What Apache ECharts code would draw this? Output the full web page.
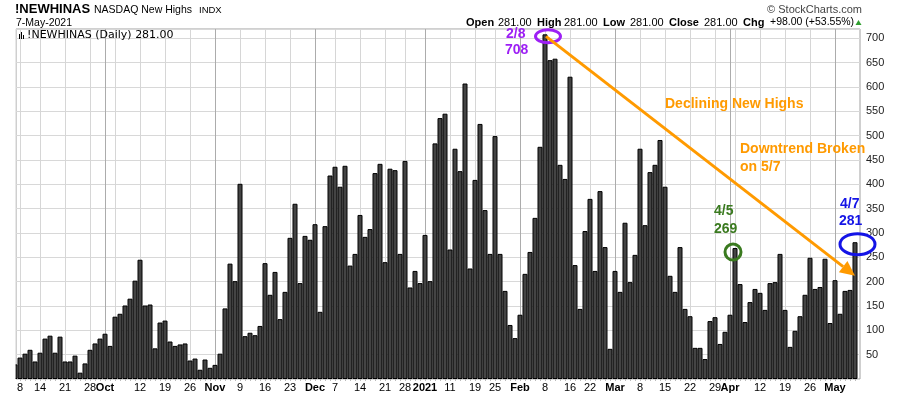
<!DOCTYPE html>
<html><head><meta charset="utf-8">
<script src="https://cdn.jsdelivr.net/npm/echarts@6/dist/echarts.min.js"></script>
<style>html,body{margin:0;padding:0;background:#fff}#c{width:900px;height:396px}</style>
</head><body><div id="c"></div>
<script>
// Trading days (Sep 4 2020 .. May 7 2021)
const dates = [
 '9/4','9/8','9/9','9/10','9/11','9/14','9/15','9/16','9/17','9/18','9/21','9/22','9/23','9/24','9/25','9/28','9/29','9/30',
 '10/1','10/2','10/5','10/6','10/7','10/8','10/9','10/12','10/13','10/14','10/15','10/16','10/19','10/20','10/21','10/22','10/23','10/26','10/27','10/28','10/29','10/30',
 '11/2','11/3','11/4','11/5','11/6','11/9','11/10','11/11','11/12','11/13','11/16','11/17','11/18','11/19','11/20','11/23','11/24','11/25','11/27','11/30',
 '12/1','12/2','12/3','12/4','12/7','12/8','12/9','12/10','12/11','12/14','12/15','12/16','12/17','12/18','12/21','12/22','12/23','12/24','12/28','12/29','12/30','12/31',
 '1/4','1/5','1/6','1/7','1/8','1/11','1/12','1/13','1/14','1/15','1/19','1/20','1/21','1/22','1/25','1/26','1/27','1/28','1/29',
 '2/1','2/2','2/3','2/4','2/5','2/8','2/9','2/10','2/11','2/12','2/16','2/17','2/18','2/19','2/22','2/23','2/24','2/25','2/26',
 '3/1','3/2','3/3','3/4','3/5','3/8','3/9','3/10','3/11','3/12','3/15','3/16','3/17','3/18','3/19','3/22','3/23','3/24','3/25','3/26','3/29','3/30','3/31',
 '4/1','4/5','4/6','4/7','4/8','4/9','4/12','4/13','4/14','4/15','4/16','4/19','4/20','4/21','4/22','4/23','4/26','4/27','4/28','4/29','4/30',
 '5/3','5/4','5/5','5/6','5/7'
];
// NASDAQ New Highs, daily
const newHighs = [
 30,44,52,60,36,54,83,89,54,87,36,36,48,13,32,60,73,83,
 93,68,128,134,151,165,202,245,151,153,63,116,120,77,68,71,73,38,42,19,40,23,
 29,52,145,237,201,401,88,95,90,109,238,173,220,123,179,290,360,197,294,286,
 318,138,314,418,436,395,438,233,257,337,292,308,423,442,240,432,429,257,448,188,222,197,
 296,201,484,536,545,266,473,427,607,227,409,524,347,257,499,257,181,111,84,
 132,216,261,331,477,708,655,658,440,411,621,234,144,304,370,222,386,271,62,
 222,179,321,199,255,473,316,425,440,491,395,212,179,271,144,129,64,64,41,119,127,72,97,
 132,269,195,117,158,185,177,142,197,199,257,142,66,99,129,173,249,185,189,247,115,
 203,134,181,183,281
];
// x-axis tick labels
const tickDates  = ['9/8','9/14','9/21','9/28','10/1','10/12','10/19','10/26','11/2','11/9','11/16','11/23','12/1','12/7','12/14','12/21','12/28','1/4','1/11','1/19','1/25','2/1','2/8','2/16','2/22','3/1','3/8','3/15','3/22','3/29','4/1','4/12','4/19','4/26','5/3'];
const tickLabels = ['8','14','21','28','Oct','12','19','26','Nov','9','16','23','Dec','7','14','21','28','2021','11','19','25','Feb','8','16','22','Mar','8','15','22','29','Apr','12','19','26','May'];
const monthLabels = ['Oct','Nov','Dec','2021','Feb','Mar','Apr','May'];
// vertical grid lines (weeks + months)
const weekLines  = ['9/8','9/14','9/21','9/28','10/5','10/12','10/19','10/26','11/9','11/16','11/23','12/7','12/14','12/21','12/28','1/11','1/19','1/25','2/8','2/16','2/22','3/8','3/15','3/22','3/29','4/5','4/12','4/19','4/26'];
const monthLines = ['10/1','11/2','12/1','1/4','2/1','3/1','4/1','5/3'];
const yMin = 0, yMax = 719, yStep = 50;

const FONT = 'Liberation Sans, Arial, sans-serif';
const chart = echarts.init(document.getElementById('c'), null, {renderer: 'canvas'});
const tickIdx = tickDates.map(d => dates.indexOf(d));
const barData = newHighs.map((v, i) => [i, v]);
const vLines = weekLines.map(d => ({xAxis: dates.indexOf(d), lineStyle: {color: '#d6d6d6', width: 1, type: 'solid'}}))
  .concat(monthLines.map(d => ({xAxis: dates.indexOf(d), lineStyle: {color: '#acacac', width: 1, type: 'solid'}})));

chart.setOption({
  animation: false,
  backgroundColor: '#fff',
  grid: {left: 16, right: 40, top: 29, bottom: 17, show: true, borderColor: '#a0a0a0', borderWidth: 1, backgroundColor: '#fff'},
  xAxis: {
    type: 'value', min: 0.2, max: 169.0,
    axisLine: {show: false},
    splitLine: {show: false},
    axisTick: {show: true, customValues: dates.map((d, i) => i), length: 2, lineStyle: {color: '#bbb'}},
    axisLabel: {
      customValues: tickIdx, margin: 3, fontSize: 11, color: '#000', fontFamily: FONT,
      formatter: v => {
        const t = tickLabels[tickIdx.indexOf(Math.round(v))];
        return monthLabels.includes(t) ? '{b|' + t + '}' : t;
      },
      rich: {b: {fontWeight: 'bold', fontSize: 11, color: '#000', fontFamily: FONT}}
    }
  },
  yAxis: {
    type: 'value', position: 'right', min: yMin, max: yMax, interval: yStep,
    axisLine: {show: false}, axisTick: {show: false},
    splitLine: {show: true, lineStyle: {color: '#d8d8d8', width: 1}},
    axisLabel: {margin: 6, fontSize: 11, color: '#222', fontFamily: FONT, formatter: v => (v === 0 ? '' : String(v))}
  },
  series: [
    {type: 'line', data: [], silent: true, z: 1,
     markLine: {z: 1, silent: true, symbol: ['none', 'none'], label: {show: false}, animation: false, data: vLines}},
    {type: 'bar', data: barData, barWidth: 5, z: 2, silent: true, clip: true,
     itemStyle: {color: '#444444', borderColor: '#000', borderWidth: 1}}
  ]
});

function px(i, v) { return chart.convertToPixel({gridIndex: 0}, [i, v]); }
const iPeak = dates.indexOf('2/8'), iApr5 = dates.indexOf('4/5'), iLast = dates.indexOf('5/7');
const pPeak = px(iPeak, newHighs[iPeak]);
const pApr5 = px(iApr5, newHighs[iApr5]);
const pLast = px(iLast, newHighs[iLast]);
const pEnd = px(iLast, 212);
const pLeft = px(0.2, 0), pTop = px(0.2, yMax);
const a0 = [pPeak[0] + 1, pPeak[1] + 2];
const dx = pEnd[0] - a0[0], dy = pEnd[1] - a0[1], L = Math.hypot(dx, dy);
const ux = dx / L, uy = dy / L, hl = 15, hw = 7;
const base = [pEnd[0] - ux * hl, pEnd[1] - uy * hl];

function txt(x, y, text, font, fill, align) {
  return {type: 'text', x: x, y: y, z: 100, silent: true,
    style: {text: text, font: font, fill: fill, align: align || 'left', verticalAlign: 'middle'}};
}
const ORANGE = '#ff9a00', PURPLE = '#9d1ff5', GREEN = '#3a7a1f', BLUE = '#1414e6';
const B14 = 'bold 14px ' + FONT;
const g = [
  // mask outside the plot on the left (bars on a value axis are not clipped to the edge)
  {type: 'rect', z: 50, silent: true, shape: {x: 0, y: pTop[1] - 1, width: pLeft[0] - 0.5, height: pLeft[1] - pTop[1] + 2}, style: {fill: '#fff'}},
  txt(15, 9, '!NEWHINAS', 'bold 13px ' + FONT, '#000'),
  txt(94, 10, 'NASDAQ New Highs', '10.5px ' + FONT, '#000'),
  txt(199, 10, 'INDX', '9.5px ' + FONT, '#000'),
  txt(16, 23, '7-May-2021', '10.5px ' + FONT, '#000'),
  txt(862, 9.5, '\u00A9 StockCharts.com', '11px ' + FONT, '#444', 'right'),
  txt(466, 22.5, 'Open', 'bold 11px ' + FONT, '#000'),
  txt(498, 22.5, '281.00', '11px ' + FONT, '#000'),
  txt(537, 22.5, 'High', 'bold 11px ' + FONT, '#000'),
  txt(564, 22.5, '281.00', '11px ' + FONT, '#000'),
  txt(603, 22.5, 'Low', 'bold 11px ' + FONT, '#000'),
  txt(630, 22.5, '281.00', '11px ' + FONT, '#000'),
  txt(669, 22.5, 'Close', 'bold 11px ' + FONT, '#000'),
  txt(704, 22.5, '281.00', '11px ' + FONT, '#000'),
  txt(743, 22.5, 'Chg', 'bold 11px ' + FONT, '#000'),
  txt(770, 22.5, '+98.00 (+53.55%)', '10.5px ' + FONT, '#000'),
  {type: 'polygon', z: 100, silent: true, shape: {points: [[855.5, 25], [861.5, 25], [858.5, 20]]}, style: {fill: '#2e9e2e'}},
  // legend icon + label
  {type: 'rect', z: 100, silent: true, shape: {x: 19, y: 34, width: 1, height: 5}, style: {fill: '#000'}},
  {type: 'rect', z: 100, silent: true, shape: {x: 21, y: 32, width: 1, height: 7}, style: {fill: '#000'}},
  {type: 'rect', z: 100, silent: true, shape: {x: 23, y: 35, width: 1, height: 4}, style: {fill: '#000'}},
  txt(27, 35.5, '!NEWHINAS (Daily) 281.00', '11px DejaVu Sans, sans-serif', '#000'),
  // annotations
  txt(506, 34, '2/8', B14, PURPLE),
  txt(505, 50, '708', B14, PURPLE),
  {type: 'ellipse', z: 101, silent: true, shape: {cx: pPeak[0] + 3, cy: pPeak[1] + 2, rx: 12.5, ry: 6.5}, style: {fill: 'none', stroke: PURPLE, lineWidth: 3}},
  {type: 'line', z: 101, silent: true, shape: {x1: a0[0], y1: a0[1], x2: base[0], y2: base[1]}, style: {stroke: ORANGE, lineWidth: 3}},
  {type: 'polygon', z: 101, silent: true, shape: {points: [pEnd, [base[0] - uy * hw, base[1] + ux * hw], [base[0] + uy * hw, base[1] - ux * hw]]}, style: {fill: ORANGE}},
  txt(665, 104, 'Declining New Highs', B14, ORANGE),
  txt(740, 149, 'Downtrend Broken', B14, ORANGE),
  txt(740, 167, 'on 5/7', B14, ORANGE),
  txt(714, 211, '4/5', B14, GREEN),
  txt(714, 229, '269', B14, GREEN),
  {type: 'circle', z: 101, silent: true, shape: {cx: pApr5[0] - 2, cy: pApr5[1] + 4, r: 8}, style: {fill: 'none', stroke: GREEN, lineWidth: 3}},
  txt(840, 204, '4/7', B14, BLUE),
  txt(839, 221, '281', B14, BLUE),
  {type: 'ellipse', z: 101, silent: true, shape: {cx: pLast[0] + 2.5, cy: pLast[1] + 2, rx: 17.5, ry: 10.5}, style: {fill: 'none', stroke: BLUE, lineWidth: 3}}
];
chart.setOption({graphic: g});
</script>
</body></html>
